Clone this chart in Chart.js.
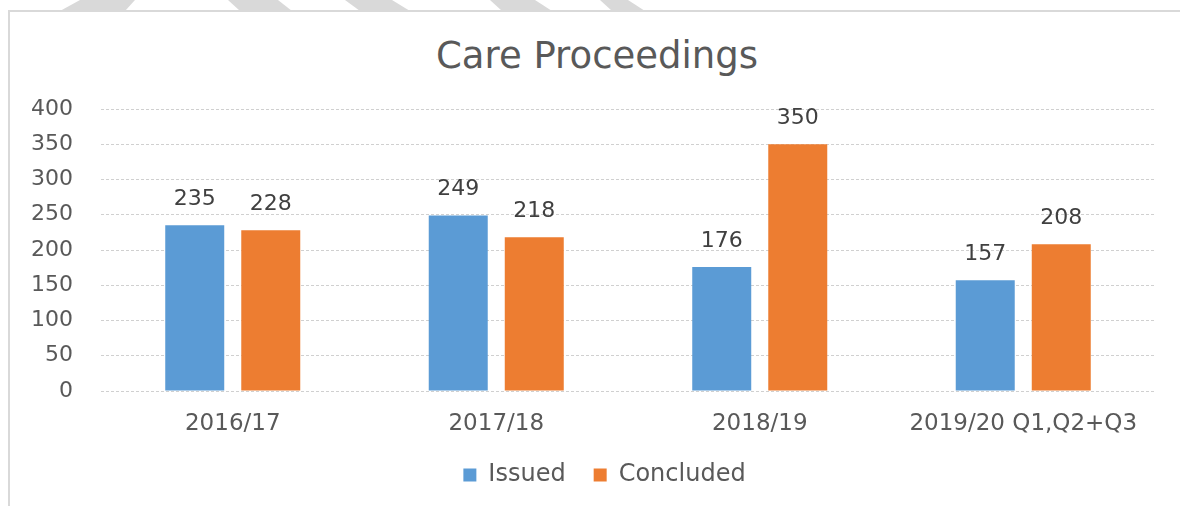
<!DOCTYPE html>
<html>
<head>
<meta charset="utf-8">
<script src="https://cdn.jsdelivr.net/npm/chart.js@4.4.1/dist/chart.umd.min.js"></script>
<style>
  body { margin: 0; background: #fff; }
  #wrap { position: relative; width: 1180px; height: 506px; overflow: hidden; }
  #frame { position: absolute; left: 8px; top: 10px; width: 1200px; height: 520px;
           border-left: 2px solid #d9d9d9; border-top: 2px solid #d9d9d9; }
  .stripe { position: absolute; top: 0; left: 0; width: 1180px; height: 11px; background: #d9d9d9; }
  #title { position: absolute; left: 0; top: 34px; width: 1194px; text-align: center;
           font: 37px/43px 'DejaVu Sans', sans-serif; color: #595959; margin: 0; }
  #chartBox { position: absolute; left: 0; top: 0; width: 1180px; height: 506px; }
</style>
</head>
<body>
<div id="wrap">
  <div id="frame"></div>
  <div class="stripe" style="clip-path: polygon(80px 0, 135px 0, 125px 11px, 60px 11px)"></div>
  <div class="stripe" style="clip-path: polygon(228px 0, 278px 0, 292px 11px, 240px 11px)"></div>
  <div class="stripe" style="clip-path: polygon(345px 0, 392px 0, 410px 11px, 360px 11px)"></div>
  <div class="stripe" style="clip-path: polygon(490px 0, 535px 0, 552px 11px, 502px 11px)"></div>
  <div class="stripe" style="clip-path: polygon(600px 0, 628px 0, 645px 11px, 612px 11px)"></div>
  <div id="title">Care Proceedings</div>
  <div id="chartBox"><canvas id="care"></canvas></div>
</div>
<script>
// chart data
const categories = ['2016/17', '2017/18', '2018/19', '2019/20 Q1,Q2+Q3'];
const issued = [235, 249, 176, 157];
const concluded = [228, 218, 350, 208];
const yTicks = [0, 50, 100, 150, 200, 250, 300, 350, 400];

const FONT = "'DejaVu Sans', sans-serif";

// draw the value above each bar
const valueLabels = {
  id: 'valueLabels',
  afterDatasetsDraw(chart) {
    const ctx = chart.ctx;
    ctx.save();
    ctx.font = '22px ' + FONT;
    ctx.fillStyle = '#404040';
    ctx.textAlign = 'center';
    ctx.textBaseline = 'bottom';
    chart.data.datasets.forEach((ds, i) => {
      chart.getDatasetMeta(i).data.forEach((bar, j) => {
        ctx.fillText(ds.data[j], bar.x, bar.y - 15);
      });
    });
    ctx.restore();
  }
};

// legend sits a bit right of the plot centre in the original
const legendShift = {
  id: 'legendShift',
  afterLayout(chart) {
    chart.legend.left += 22;
    chart.legend.right += 22;
  }
};

new Chart(document.getElementById('care'), {
  type: 'bar',
  data: {
    labels: categories,
    datasets: [
      { label: 'Issued', data: issued, backgroundColor: '#5B9BD5' },
      { label: 'Concluded', data: concluded, backgroundColor: '#ED7D31' }
    ]
  },
  options: {
    responsive: true,
    maintainAspectRatio: false,
    animation: false,
    categoryPercentage: 0.577,
    barPercentage: 0.776,
    layout: { padding: { left: 10, right: 25, top: 109, bottom: 9 } },
    plugins: {
      title: { display: false },
      legend: {
        position: 'bottom',
        labels: {
          boxWidth: 13,
          boxHeight: 13,
          padding: 28,
          color: '#595959',
          font: { family: FONT, size: 24 }
        }
      },
      tooltip: { enabled: false }
    },
    scales: {
      x: {
        grid: { display: false },
        border: { display: false },
        ticks: { color: '#595959', padding: 11, font: { family: FONT, size: 23 } },
        afterFit(scale) { scale.height = 44; }
      },
      y: {
        min: 0,
        max: 400,
        afterBuildTicks(scale) { scale.ticks = yTicks.map(v => ({ value: v })); },
        grid: { color: '#d0d0d0', drawTicks: false },
        border: { display: false, dash: [3, 2] },
        ticks: { color: '#595959', padding: 28, font: { family: FONT, size: 22 } },
        afterFit(scale) { scale.width = 91; }
      }
    }
  },
  plugins: [valueLabels, legendShift]
});
</script>
</body>
</html>
